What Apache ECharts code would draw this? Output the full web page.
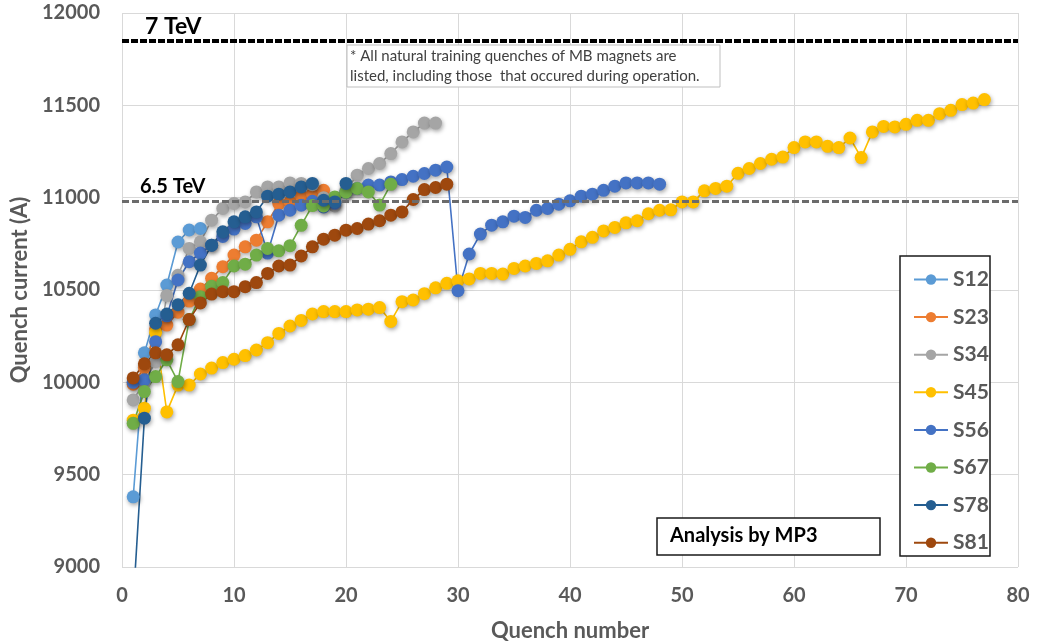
<!DOCTYPE html>
<html>
<head>
<meta charset="utf-8">
<script src="https://cdn.jsdelivr.net/npm/echarts@6/dist/echarts.min.js"></script>
<style>
html,body{margin:0;padding:0;background:#fff;}
#chart{width:1040px;height:641px;}
</style>
</head>
<body>
<div id="chart"></div>
<script>
// ---- data (quench current in A, by quench number starting at 1) ----
var seriesNames = ['S12','S23','S34','S45','S56','S67','S78','S81'];
var seriesColors = ['#5B9BD5','#ED7D31','#A5A5A5','#FFC000','#4472C4','#70AD47','#255E91','#9E480E'];

var S12 = [9380, 10160, 10365, 10527, 10760, 10825, 10833];
var S23 = [9990, 10080, 10290, 10310, 10380, 10440, 10505, 10563, 10626, 10689, 10734, 10770, 10869, 10968, 10977, 11010, 11020, 11040];
var S34 = [9905, 10000, 10112, 10470, 10580, 10725, 10761, 10878, 10942, 10969, 10977, 11031, 11058, 11058, 11080, 11077, 11070, 11000, 10955, 11040, 11122, 11158, 11185, 11239, 11302, 11356, 11404, 11404];
var S45 = [9795, 9860, 10270, 9840, 9985, 9985, 10045, 10077, 10107, 10125,
           10145, 10175, 10215, 10265, 10305, 10335, 10370, 10383, 10383, 10383,
           10392, 10396, 10405, 10330, 10437, 10446, 10480, 10512, 10536, 10550,
           10560, 10590, 10590, 10586, 10617, 10630, 10644, 10658, 10689, 10720,
           10761, 10785, 10820, 10839, 10864, 10875, 10913, 10932, 10934, 10977,
           10977, 11037, 11050, 11062, 11132, 11158, 11185, 11208, 11220, 11271,
           11302, 11302, 11278, 11271, 11323, 11217, 11356, 11386, 11383, 11397,
           11419, 11419, 11455, 11473, 11504, 11512, 11531];
var S56 = [10000, 10014, 10220, 10360, 10554, 10653, 10700, 10743, 10790, 10830,
           10860, 10896, 10700, 10905, 10932, 10959, 10980, 10950, 10970, 11030,
           11050, 11068, 11068, 11085, 11098, 11116, 11131, 11149, 11166, 10496,
           10695, 10803, 10851, 10869, 10900, 10893, 10932, 10942, 10965, 10983,
           11008, 11019, 11040, 11062, 11080, 11080, 11080, 11073];
var S67 = [9778, 9950, 10031, 10122, 10004, 10340, 10464, 10520, 10540, 10630, 10640, 10689, 10725, 10712, 10740, 10850, 10957, 10955, 11004, 11030, 11050, 11031, 10960, 11072];
var S78 = [8800, 9806, 10320, 10370, 10420, 10482, 10635, 10743, 10815, 10869, 10896, 10923, 11008, 11019, 11031, 11058, 11077, 10986, 10977, 11077];
var S81 = [10024, 10100, 10160, 10149, 10203, 10340, 10430, 10478, 10491, 10491, 10518, 10540, 10590, 10630, 10635, 10684, 10734, 10775, 10797, 10824, 10833, 10857, 10875, 10905, 10923, 10990, 11044, 11055, 11073];

var allValues = [S12, S23, S34, S45, S56, S67, S78, S81];

var tevLevels = [11850, 10980];
var tevLabels = ['7 TeV', '6.5 TeV'];

var xTicks = [0, 80, 10];      // min, max, interval
var yTicks = [9000, 12000, 500];

var noteLines = ['* All natural training quenches of MB magnets are',
                 'listed, including those  that occured during operation.'];
var analysisText = 'Analysis by MP3';
var xName = 'Quench number';
var yName = 'Quench current (A)';

// ---- chart ----
var FONT = 'Lato, "Open Sans", sans-serif';
var chart = echarts.init(document.getElementById('chart'), null, {renderer: 'canvas'});

var series = seriesNames.map(function (name, k) {
  return {
    name: name,
    type: 'line',
    data: allValues[k].map(function (v, i) { return [i + 1, v]; }),
    symbol: 'circle',
    symbolSize: 13,
    clip: true,
    color: seriesColors[k],
    lineStyle: {width: 1.6, color: seriesColors[k]},
    itemStyle: {color: seriesColors[k], shadowBlur: 4, shadowColor: 'rgba(0,0,0,0.35)', shadowOffsetX: 1, shadowOffsetY: 2},
    emphasis: {disabled: true},
    animation: false
  };
});

series.push({
  name: 'levels',
  type: 'line',
  data: [],
  silent: true,
  animation: false,
  markLine: {
    silent: true,
    symbol: 'none',
    animation: false,
    label: {show: false},
    data: [
      {yAxis: tevLevels[0], lineStyle: {color: '#000000', width: 4, type: [7, 2]}},
      {yAxis: tevLevels[1], lineStyle: {color: '#6b6b6b', width: 3, type: [7, 3]}}
    ]
  }
});

var option = {
  backgroundColor: '#ffffff',
  animation: false,
  grid: {left: 122, right: 22, top: 13, bottom: 74, containLabel: false, outerBoundsMode: 'none'},
  xAxis: {
    type: 'value',
    min: xTicks[0], max: xTicks[1], interval: xTicks[2],
    name: xName,
    nameLocation: 'middle',
    nameGap: 53,
    nameTextStyle: {fontFamily: FONT, fontSize: 22, fontWeight: 'bold', color: '#595959'},
    axisLine: {show: false},
    axisTick: {show: false},
    axisLabel: {fontFamily: FONT, fontSize: 20, fontWeight: 'bold', color: '#595959', margin: 19},
    splitLine: {show: true, lineStyle: {color: '#d9d9d9', width: 1}}
  },
  yAxis: {
    type: 'value',
    min: yTicks[0], max: yTicks[1], interval: yTicks[2],
    name: yName,
    nameLocation: 'middle',
    nameGap: 89,
    nameRotate: 90,
    nameTextStyle: {fontFamily: FONT, fontSize: 22, fontWeight: 'bold', color: '#595959'},
    axisLine: {show: false},
    axisTick: {show: false},
    axisLabel: {fontFamily: FONT, fontSize: 20, fontWeight: 'bold', color: '#595959', margin: 22,
                formatter: function (v) { return String(v); }},
    splitLine: {show: true, lineStyle: {color: '#d9d9d9', width: 1}}
  },
  legend: {
    data: seriesNames,
    orient: 'vertical',
    left: 908,
    top: 264,
    z: 6,
    itemWidth: 34,
    itemHeight: 13,
    itemGap: 16.6,
    textStyle: {fontFamily: FONT, fontSize: 21, fontWeight: 'bold', color: '#595959'},
    selectedMode: false
  },
  graphic: [
    {type: 'rect', z: 3, shape: {x: 900, y: 256, width: 90, height: 300},
     style: {fill: '#ffffff', stroke: '#1a1a1a', lineWidth: 1.5}},
    {type: 'rect', z: 3, shape: {x: 657, y: 518, width: 223, height: 37},
     style: {fill: '#ffffff', stroke: '#1a1a1a', lineWidth: 1.5}},
    {type: 'text', z: 4, left: 670, top: 526,
     style: {text: analysisText, font: 'bold 20px ' + FONT, fill: '#000000'}},
    {type: 'rect', z: 3, shape: {x: 347, y: 45, width: 373, height: 42},
     style: {fill: '#ffffff', stroke: '#bfbfbf', lineWidth: 1}},
    {type: 'text', z: 4, left: 350, top: 46,
     style: {text: noteLines.join('\n'), font: '15px ' + FONT, fill: '#404040', lineHeight: 20}},
    {type: 'text', z: 4, left: 145, top: 15,
     style: {text: tevLabels[0], font: 'bold 23px ' + FONT, fill: '#000000'}},
    {type: 'text', z: 4, left: 140, top: 177,
     style: {text: tevLabels[1], font: 'bold 20px ' + FONT, fill: '#000000'}}
  ],
  series: series
};
chart.setOption(option);
</script>
</body>
</html>
